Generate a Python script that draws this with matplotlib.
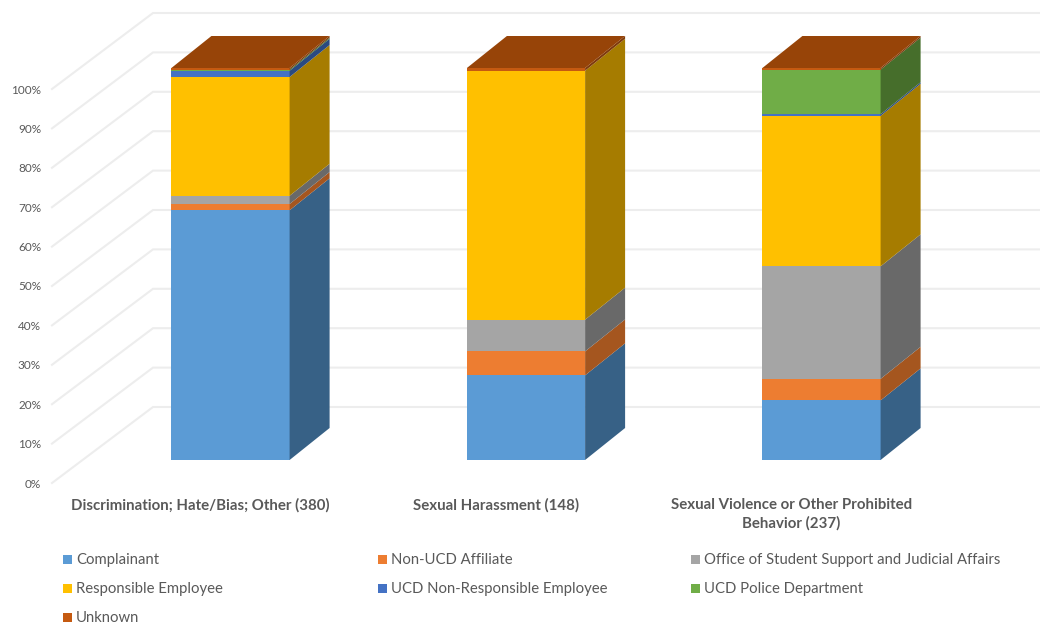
import matplotlib
matplotlib.use("Agg")
import matplotlib.pyplot as plt
from matplotlib.patches import Polygon, Rectangle

plt.rcParams['font.family'] = ['Lato', 'DejaVu Sans']

categories = ["Discrimination; Hate/Bias; Other (380)",
              "Sexual Harassment (148)",
              "Sexual Violence or Other Prohibited\nBehavior (237)"]
series = ["Complainant", "Non-UCD Affiliate", "Office of Student Support and Judicial Affairs",
          "Responsible Employee", "UCD Non-Responsible Employee", "UCD Police Department", "Unknown"]

complainant = [63.7, 21.6, 15.2]
non_ucd = [1.6, 6.1, 5.5]
student_support = [2.1, 8.1, 28.7]
responsible = [30.3, 63.5, 38.4]
non_responsible = [1.6, 0.0, 0.4]
police = [0.3, 0.0, 11.4]
unknown = [0.4, 0.7, 0.4]
values = [complainant, non_ucd, student_support, responsible, non_responsible, police, unknown]

ticks = list(range(0, 101, 10))

front_colors = ["#5B9BD5", "#ED7D31", "#A5A5A5", "#FFC000", "#4472C4", "#70AD47", "#C55A11"]
side_colors = ["#376186", "#A5561F", "#696969", "#A67C00", "#2A4A80", "#466E2B", "#7F3A0B"]
top_color = "#974408"
text_color = "#595959"
grid_color = "#EDEDED"

W, H = 1040, 627
PX_PER_CAT = 295.5
PX_PER_PCT = 3.92
BAR_WIDTH = 0.4
DEPTH_X = 40 / PX_PER_CAT
DEPTH_Y = 32 / PX_PER_PCT
LABEL_SHIFT = -30 / PX_PER_CAT

fig = plt.figure(figsize=(W / 100, H / 100), dpi=100)
ax = fig.add_axes([0, 0, 1, 1])
# x runs in category units, y in percent, both on the plane of the bar fronts
ax.set_xlim(-230.5 / PX_PER_CAT, (W - 230.5) / PX_PER_CAT)
ax.set_ylim((460 - H) / PX_PER_PCT, 460 / PX_PER_PCT)
ax.axis("off")


def xpx(px):
    return (px - 230.5) / PX_PER_CAT


def ypx(py):
    return (460 - py) / PX_PER_PCT


# gridlines: floor/side wall diagonal, then along the back wall
for t in ticks:
    front_y = 483 - 3.94 * t
    back_y = 407 - 3.94 * t
    ax.plot([xpx(52), xpx(153), xpx(W)], [ypx(front_y), ypx(back_y), ypx(back_y)],
            color=grid_color, lw=1.5, zorder=1, solid_joinstyle="miter")
    ax.text(xpx(41), ypx(front_y + 1), f"{t}%", ha="right", va="center",
            fontsize=8.5, color=text_color)

# stacked boxes, each segment has a front face and a shaded side face
for i in range(len(categories)):
    bottom = 0
    right = i + BAR_WIDTH / 2
    left = i - BAR_WIDTH / 2
    for s, vals in enumerate(values):
        v = vals[i]
        if v == 0:
            continue
        ax.bar(i, v, BAR_WIDTH, bottom=bottom, color=front_colors[s], zorder=3)
        top = bottom + v
        ax.add_patch(Polygon([(right, bottom), (right + DEPTH_X, bottom + DEPTH_Y),
                              (right + DEPTH_X, top + DEPTH_Y), (right, top)],
                             closed=True, facecolor=side_colors[s], edgecolor="none", zorder=3))
        bottom = top
    ax.add_patch(Polygon([(left, bottom), (right, bottom),
                          (right + DEPTH_X, bottom + DEPTH_Y), (left + DEPTH_X, bottom + DEPTH_Y)],
                         closed=True, facecolor=top_color, edgecolor="none", zorder=3))

    ax.text(i + LABEL_SHIFT, ypx(498), categories[i], ha="center", va="top", fontsize=10.8,
            fontweight="bold", color=text_color, linespacing=1.4)

# legend, three columns filled row by row
col_x = [63, 378, 691]
row_y = [559, 588, 617]
for k, name in enumerate(series):
    lx = col_x[k % 3]
    ly = row_y[k // 3]
    fig.add_artist(Rectangle((lx / W, 1 - (ly + 4.5) / H), 9 / W, 9 / H,
                             transform=fig.transFigure, facecolor=front_colors[k], edgecolor="none"))
    fig.text((lx + 13) / W, 1 - (ly + 1) / H, name, ha="left", va="center",
             fontsize=10.7, color=text_color)

fig.savefig("out.png", dpi=100)
